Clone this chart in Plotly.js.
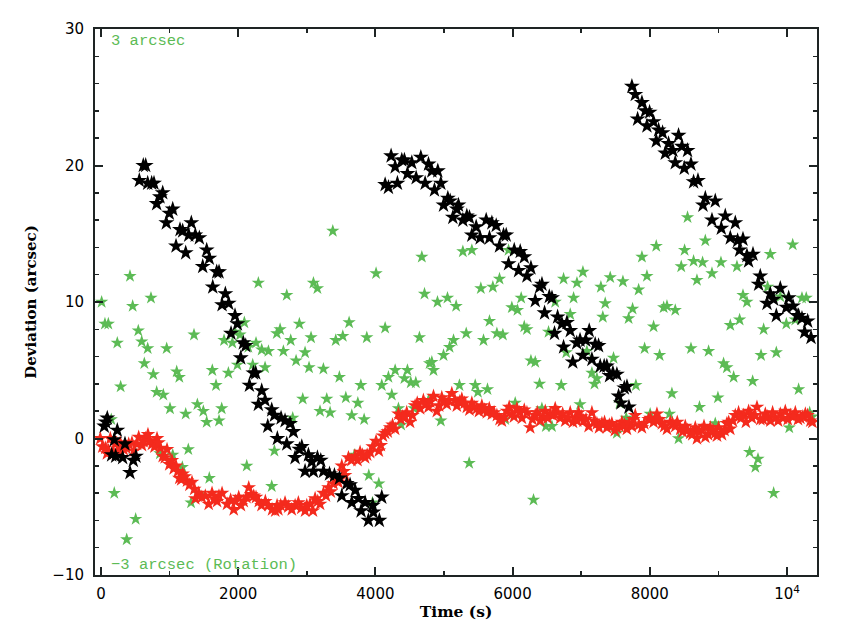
<!DOCTYPE html>
<html>
<head>
<meta charset="utf-8">
<script src="https://cdn.plot.ly/plotly-3.0.1.min.js"></script>
<style>
  html, body { margin: 0; padding: 0; background: #fff; }
  #chart { width: 856px; height: 625px; }
</style>
</head>
<body>
<div id="chart"></div>
<script>
// black stars: deviation of the guiding star (three ramps + short start)
const blackTime = [48, 70, 92, 156, 194, 214, 238, 316, 350, 423, 471, 510,
  559, 617, 652, 681, 739, 773, 812, 860, 900, 953, 996, 1046, 1094, 1152, 1191, 1235, 1279, 1317,
  1375, 1434, 1483, 1541, 1579, 1629, 1687, 1721, 1765, 1813, 1862, 1896, 1954, 1988, 2037, 2075,
  2110, 2164, 2222, 2256, 2294, 2343, 2392, 2431, 2489, 2528, 2571, 2625, 2683, 2708, 2756, 2805,
  2829, 2892, 2927, 2975, 3024, 3072, 3097, 3155, 3204, 3243, 3331, 3403, 3476, 3510, 3583, 3631,
  3656, 3704, 3753, 3792, 3850, 3898, 3962, 3971, 4058, 4093,
  4142, 4190, 4229, 4288, 4321, 4385, 4423, 4467, 4531, 4594, 4662, 4725, 4774, 4823, 4861, 4910,
  4954, 4993, 5056, 5090, 5129, 5187, 5211, 5275, 5333, 5371, 5406, 5469, 5527, 5615, 5663, 5698,
  5761, 5809, 5868, 5907, 5941, 6024, 6087, 6111, 6170, 6209, 6267, 6330, 6393, 6428, 6466, 6535,
  6574, 6611, 6656, 6719, 6743, 6792, 6840, 6877, 6935, 6983, 7023, 7066, 7117, 7156, 7204, 7253,
  7277, 7335, 7374, 7413, 7462, 7520, 7545, 7578, 7628, 7667, 7696,
  7739, 7788, 7822, 7885, 7934, 7958, 7997, 8055, 8094, 8128, 8186, 8225, 8273, 8337, 8371, 8419,
  8468, 8502, 8550, 8600, 8638, 8702, 8775, 8809, 8906, 8954, 9042, 9100, 9173, 9246, 9280, 9309,
  9358, 9416, 9440, 9504, 9586, 9610, 9708, 9756, 9805, 9844, 9902, 9990, 10024, 10087, 10146, 10169,
  10218, 10257, 10301, 10350];
const blackDev = [0.9, 1.2, 1.5, -1.2, -0.1, -1.3, 0.6, -1.4, -0.4, -2.5, -1.6, -1.3,
  18.9, 20.0, 20.0, 18.7, 18.7, 18.7, 17.2, 17.7, 18.0, 15.8, 16.5, 16.8, 14.1, 15.3, 15.2, 13.6, 14.9, 15.8,
  14.9, 14.7, 12.6, 13.8, 13.2, 11.1, 12.2, 12.2, 9.8, 10.6, 9.9, 7.7, 9.0, 8.4, 5.9, 7.0,
  6.8, 3.9, 4.8, 4.8, 2.5, 3.5, 2.8, 0.9, 2.1, 1.7, 0.0, 1.5, 1.3, -0.4, 1.1, 0.5,
  -1.4, -0.8, -0.6, -2.4, -1.2, -1.7, -2.4, -1.4, -1.6, -2.4, -2.6, -2.7, -2.9, -4.2, -3.3, -3.4,
  -4.7, -3.8, -4.4, -5.3, -4.7, -6.0, -4.9, -5.4, -6.0, -4.3,
  18.6, 18.4, 20.7, 19.9, 18.7, 20.4, 20.4, 19.4, 20.2, 19.1, 20.6, 18.7, 20.1, 19.6, 18.2, 19.6,
  18.7, 17.1, 17.6, 17.4, 16.2, 16.8, 17.1, 16.0, 16.3, 16.2, 14.9, 15.5, 14.7, 16.0, 14.7, 15.8,
  15.6, 14.1, 14.9, 14.9, 12.8, 13.8, 12.3, 13.7, 13.3, 11.9, 12.5, 10.1, 11.1, 11.3, 9.2, 10.4,
  10.3, 7.7, 8.9, 8.4, 6.7, 8.5, 7.9, 5.6, 7.0, 7.2, 6.1, 7.2, 7.9, 5.8, 6.9, 6.8,
  5.3, 5.3, 5.3, 4.6, 4.8, 4.7, 3.1, 2.6, 3.7, 3.8, 2.3,
  25.8, 25.2, 23.4, 24.6, 24.0, 22.9, 23.9, 23.2, 21.8, 22.6, 22.4, 20.9, 21.6, 21.1, 20.2, 22.2,
  21.4, 19.8, 21.1, 20.1, 18.8, 18.9, 17.1, 17.6, 16.0, 17.4, 15.4, 16.3, 14.7, 15.8, 14.5, 13.8,
  14.6, 13.4, 13.0, 13.5, 11.3, 11.9, 9.9, 10.6, 10.2, 9.0, 11.0, 9.6, 10.3, 9.7, 9.0, 9.0,
  8.8, 7.8, 8.6, 7.4];

// green stars: rotation
const greenTime = [10, 58, 107, 150, 194, 238, 287, 375, 423, 462, 506, 544, 594, 632, 681, 729,
  763, 812, 860, 909, 958, 1006, 1046, 1104, 1142, 1186, 1235, 1273, 1313, 1356, 1405, 1434,
  1492, 1541, 1579, 1623, 1677, 1721, 1760, 1794, 1857, 1915, 1954, 1988, 2027, 2090, 2125, 2148,
  2212, 2260, 2294, 2343, 2392, 2441, 2489, 2528, 2563, 2611, 2659, 2708, 2766, 2795, 2844, 2892,
  2941, 2975, 3033, 3062, 3097, 3155, 3193, 3242, 3291, 3340, 3379, 3422, 3475, 3525, 3569, 3617,
  3656, 3694, 3744, 3788, 3836, 3875, 3904, 3957, 4010, 4050, 4093, 4142, 4190, 4239, 4288, 4336,
  4375, 4423, 4467, 4516, 4565, 4589, 4642, 4677, 4716, 4774, 4790, 4823, 4847, 4905, 4954, 4993,
  5051, 5081, 5139, 5177, 5225, 5275, 5324, 5367, 5406, 5455, 5494, 5537, 5576, 5634, 5663, 5712,
  5771, 5809, 5858, 5892, 5941, 5989, 6038, 6071, 6125, 6170, 6209, 6267, 6305, 6330, 6393, 6427,
  6485, 6524, 6573, 6621, 6709, 6743, 6782, 6840, 6889, 6938, 6983, 7025, 7083, 7156, 7194, 7229,
  7287, 7315, 7350, 7423, 7471, 7520, 7559, 7608, 7656, 7691, 7749, 7797, 7837, 7885, 7924, 7958,
  8005, 8055, 8094, 8143, 8202, 8250, 8287, 8322, 8371, 8419, 8458, 8507, 8550, 8600, 8638, 8687,
  8724, 8769, 8809, 8857, 8906, 8954, 8993, 9037, 9075, 9124, 9173, 9222, 9270, 9309, 9358, 9416,
  9455, 9499, 9538, 9577, 9621, 9659, 9717, 9756, 9805, 9844, 9902, 9990, 10033, 10083, 10121, 10169,
  10218, 10280, 10330, 10364];
const greenDev = [10.0, 8.4, 8.4, 1.4, -4.0, 7.0, 3.8, -7.4, 11.9, 9.7, -5.9, 7.9, 7.1, 5.5, 6.6, 10.3,
  4.7, 3.4, -1.1, 3.2, 6.6, 2.2, -1.2, 4.9, 4.5, -2.1, 1.8, -0.8, -4.7, 7.6, 2.5, -4.1,
  2.0, 1.2, -2.9, 5.0, 3.9, 1.3, 2.2, 7.2, 4.8, 7.0, 7.8, 5.4, 7.6, 8.5, -2.0, 6.7,
  5.4, 7.0, 11.4, 6.5, 5.2, 6.4, -3.5, -0.9, 7.7, 8.0, 6.4, 10.5, 7.2, 1.5, 5.7, 8.4,
  2.9, 6.3, 5.2, 7.4, 11.4, 11.0, 2.0, 5.1, 2.9, 1.9, 15.2, 7.2, 4.5, 7.5, 3.0, 8.5,
  1.7, -1.2, 2.6, 3.9, 1.4, 7.4, -2.7, -4.7, 12.1, -3.3, 3.9, 8.1, 4.5, 3.2, 5.0, 2.2,
  1.0, 4.4, 5.0, 4.1, 2.2, 4.1, 7.4, 13.3, 10.6, 2.8, 5.5, 5.6, 5.0, 10.0, 1.3, 6.1,
  10.3, 6.7, 7.2, 9.7, 3.9, 13.7, 7.7, -1.8, 13.8, 3.9, 3.4, 11.0, 7.2, 3.6, 8.6, 11.1,
  7.7, 11.7, 7.6, 1.4, 13.8, 9.6, 2.6, 9.4, 10.3, 8.2, 8.0, 5.7, -4.5, 5.6, 4.0, 2.2,
  0.9, 7.8, 0.9, 10.0, 3.9, 11.7, 6.3, 9.1, 10.3, 11.4, 2.5, 12.2, 6.4, 4.8, 4.0, 4.4,
  11.1, 8.9, 9.9, 11.8, 5.9, 0.4, 2.6, 11.5, 1.5, 8.8, 9.5, 3.9, 10.9, 13.3, 6.6, 11.9,
  1.8, 8.2, 14.1, 6.1, 9.6, 9.7, 1.8, 3.3, 9.4, 0.0, 12.6, 13.8, 16.2, 6.6, 13.0, 11.6,
  2.3, 12.9, 14.5, 6.4, 12.1, 1.1, 3.0, 12.9, 5.5, 5.2, 8.3, 4.5, 12.6, 8.7, 10.5, 10.0,
  -1.0, 4.2, -2.1, -1.5, 6.1, 8.0, 11.1, 13.5, -4.0, 6.3, 10.4, 8.4, 0.8, 14.2, 8.7, 3.6,
  10.3, 10.3, 1.9, 1.6];

// red stars: upper and lower track of the dense band
const redTimeA = [-10, 63, 87, 136, 209, 233, 281, 331, 404, 452, 525, 550, 598, 646, 685, 744,
  817, 865, 900, 963, 996, 1035, 1094, 1142, 1191, 1254, 1327, 1375, 1425, 1521, 1570, 1619,
  1692, 1765, 1838, 1935, 2008, 2081, 2154, 2227, 2300, 2396, 2494, 2567, 2586, 2683, 2781, 2877,
  2975, 3048, 3121, 3194, 3243, 3316, 3389, 3462, 3510, 3558, 3607, 3704, 3777, 3850, 3923, 4010,
  4079, 4142, 4215, 4288, 4336, 4398, 4457, 4506, 4579, 4652, 4700, 4774, 4847, 4895, 4968, 5041,
  5114, 5187, 5260, 5333, 5406, 5479, 5552, 5625, 5698, 5771, 5844, 5917, 5990, 6063, 6136, 6209,
  6257, 6330, 6403, 6476, 6548, 6621, 6694, 6767, 6840, 6913, 6962, 7035, 7108, 7156, 7229, 7302,
  7375, 7447, 7520, 7593, 7666, 7739, 7788, 7885, 7982, 8055, 8104, 8177, 8250, 8298, 8371, 8444,
  8517, 8590, 8663, 8687, 8760, 8809, 8882, 8954, 9003, 9052, 9124, 9173, 9246, 9294, 9367, 9440,
  9489, 9562, 9611, 9684, 9757, 9830, 9902, 9975, 10048, 10121, 10194, 10267, 10340];
const redDevA = [0.0, -0.7, -1.1, 0.0, -0.4, -1.0, -0.3, -0.8, -0.4, -0.3, -0.4, 0.1, -0.5, 0.0, 0.3, -0.4,
  0.0, -0.7, -1.3, -0.8, -1.9, -1.6, -2.0, -2.9, -2.6, -3.1, -3.2, -4.4, -4.0, -4.2, -4.8, -4.0,
  -4.6, -4.0, -4.8, -5.2, -4.3, -4.6, -3.6, -4.2, -4.6, -4.6, -5.2, -4.9, -5.2, -4.7, -5.2, -4.7,
  -5.3, -4.8, -4.4, -4.8, -4.0, -3.6, -3.3, -3.2, -2.0, -2.7, -1.4, -1.3, -1.0, -1.4, -1.0, -0.2,
  -0.5, 0.4, 0.8, 0.7, 1.8, 1.6, 1.9, 1.2, 2.4, 2.2, 2.8, 2.3, 3.1, 2.0, 3.0, 2.5,
  3.3, 2.4, 2.9, 2.3, 2.6, 2.2, 2.4, 1.9, 1.8, 1.7, 1.3, 2.0, 1.8, 2.2, 1.5, 1.9,
  0.8, 1.7, 1.3, 2.0, 1.8, 2.2, 1.5, 1.3, 1.9, 1.5, 1.9, 1.3, 0.9, 1.9, 1.1, 1.1,
  0.8, 1.1, 0.8, 1.2, 0.7, 0.9, 1.7, 0.8, 1.4, 1.2, 1.8, 1.1, 0.7, 1.2, 0.9, 0.7,
  0.9, 0.4, 0.8, 0.0, 0.6, 0.1, 0.8, 0.4, 0.8, 0.3, 1.1, 0.7, 1.7, 1.9, 1.7, 2.0,
  1.5, 2.3, 1.4, 1.8, 1.3, 1.5, 1.8, 2.0, 1.7, 1.9, 1.5, 1.8, 1.3];
const redTimeB = [20, 110, 180, 260, 370, 480, 620, 710, 780, 840, 930, 1060, 1120, 1170, 1220, 1290,
  1360, 1470, 1650, 1720, 1890, 1960, 2040, 2120, 2190, 2260, 2340, 2440, 2540, 2620, 2730, 2830,
  2920, 3000, 3090, 3160, 3280, 3350, 3430, 3540, 3650, 3740, 3810, 3880, 3960, 4050, 4110, 4180,
  4250, 4370, 4430, 4540, 4610, 4730, 4800, 4930, 5000, 5070, 5160, 5230, 5300, 5370, 5440, 5510,
  5590, 5660, 5730, 5810, 5880, 5950, 6020, 6100, 6170, 6290, 6360, 6440, 6510, 6590, 6660, 6730,
  6800, 6880, 6940, 7000, 7070, 7190, 7260, 7340, 7410, 7490, 7560, 7630, 7700, 7760, 7840, 7920,
  8010, 8080, 8140, 8210, 8330, 8400, 8480, 8550, 8620, 8720, 8790, 8850, 8920, 8980, 9090, 9150,
  9210, 9330, 9400, 9470, 9530, 9650, 9720, 9790, 9870, 9940, 10010, 10090, 10160, 10230, 10300, 10370];
const redDevB = [-0.6, -0.9, -1.0, -0.6, -0.7, -0.9, -0.2, -0.2, -0.6, -0.3, -1.4, -2.2, -2.4, -3.0, -2.8, -3.4,
  -3.7, -4.3, -4.4, -4.2, -4.5, -4.6, -4.9, -4.3, -4.1, -4.3, -4.9, -4.9, -5.3, -4.9, -5.0, -4.9,
  -5.1, -4.9, -5.3, -4.6, -4.2, -3.9, -3.1, -2.4, -1.6, -1.6, -1.2, -1.2, -0.6, -0.9, 0.2, 0.5,
  1.0, 1.4, 1.6, 1.7, 2.6, 2.5, 2.7, 2.4, 2.7, 2.8, 2.8, 2.7, 2.6, 2.1, 2.3, 2.0,
  2.1, 2.2, 1.9, 1.4, 1.6, 2.3, 1.6, 1.9, 2.1, 1.4, 1.9, 1.6, 1.5, 1.7, 1.9, 1.8,
  1.5, 1.2, 1.3, 1.6, 1.4, 1.3, 0.8, 1.2, 1.0, 0.6, 0.9, 1.0, 1.1, 1.4, 1.0, 1.1,
  1.5, 1.4, 1.4, 0.9, 1.1, 1.2, 0.5, 0.6, 0.3, 0.5, 0.9, 0.3, 0.6, 0.2, 0.6, 1.2,
  1.3, 1.5, 1.2, 1.8, 1.7, 1.4, 1.6, 1.9, 1.3, 1.5, 1.4, 1.6, 1.4, 1.6, 1.7, 1.2];

const xTickVals = [0, 2000, 4000, 6000, 8000, 10000];
const xTickText = ['0', '2000', '4000', '6000', '8000', '10<sup>4</sup>'];

const GREEN = '#5cbb55';
const RED = '#f42a1d';

function starTrace(x, y, color, size) {
    return {
        x: x,
        y: y,
        type: 'scatter',
        mode: 'markers',
        hoverinfo: 'skip',
        showlegend: false,
        marker: { symbol: 'star', color: color, size: size, line: { width: 0 } }
    };
}

const data = [
    starTrace(greenTime, greenDev, GREEN, 10),
    starTrace(redTimeA, redDevA, RED, 11),
    starTrace(redTimeB, redDevB, RED, 11),
    starTrace(blackTime, blackDev, '#000000', 12)
];

const axisCommon = {
    showline: true,
    linecolor: '#1e2424',
    linewidth: 2,
    mirror: 'ticks',
    ticks: 'inside',
    ticklen: 8,
    tickwidth: 2,
    tickcolor: '#1e2424',
    showgrid: false,
    zeroline: false,
    tickfont: { family: 'DejaVu Sans', size: 15, color: '#000' }
};

const layout = {
    width: 856,
    height: 625,
    margin: { l: 95, r: 39, t: 29, b: 50 },
    paper_bgcolor: '#ffffff',
    plot_bgcolor: '#ffffff',
    xaxis: Object.assign({}, axisCommon, {
        range: [-87, 10437],
        tickvals: xTickVals,
        ticktext: xTickText,
        ticklabelstandoff: 4,
        minor: { dtick: 1000, tick0: 0, ticks: 'inside', ticklen: 4, tickwidth: 1.5, tickcolor: '#1e2424' },
        title: { text: 'Time (s)', standoff: 4, font: { family: 'DejaVu Serif', size: 15.5, weight: 'bold', color: '#000' } }
    }),
    yaxis: Object.assign({}, axisCommon, {
        range: [-10, 30],
        tick0: 0,
        dtick: 10,
        ticklabelstandoff: 6,
        minor: { dtick: 2, tick0: 0, ticks: 'inside', ticklen: 4, tickwidth: 1.5, tickcolor: '#1e2424' },
        title: { text: 'Deviation (arcsec)', standoff: 12, font: { family: 'DejaVu Serif', size: 15, weight: 'bold', color: '#000' } }
    }),
    annotations: [
        {
            xref: 'paper', yref: 'paper', x: 0.02, y: 0.978,
            xanchor: 'left', yanchor: 'middle', showarrow: false,
            text: '3 arcsec',
            font: { family: 'Liberation Mono', size: 15.5, color: GREEN }
        },
        {
            xref: 'paper', yref: 'paper', x: 0.02, y: 0.019,
            xanchor: 'left', yanchor: 'middle', showarrow: false,
            text: '\u22123 arcsec (Rotation)',
            font: { family: 'Liberation Mono', size: 15.5, color: GREEN }
        }
    ]
};

Plotly.newPlot('chart', data, layout, { staticPlot: true });
</script>
</body>
</html>
